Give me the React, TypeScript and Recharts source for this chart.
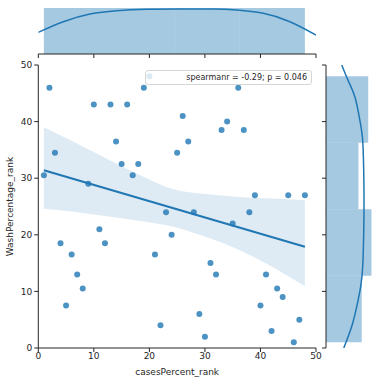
import React from 'react';
import { ComposedChart, Scatter, Line, Area, XAxis, YAxis, ReferenceArea } from 'recharts';

// scatter values (ranks)
const xRank = [1, 2, 3, 4, 5, 6, 7, 8, 9, 10, 11, 12, 13, 14, 15, 16, 17, 18, 19, 20, 21, 22, 23, 24,
  25, 26, 27, 28, 29, 30, 31, 32, 33, 34, 35, 36, 37, 38, 39, 40, 41, 42, 43, 44, 45, 46, 47, 48];
const yRank = [30.5, 46, 34.5, 18.5, 7.5, 16.5, 13, 10.5, 29, 43, 21, 18.5, 43, 36.5, 32.5, 43, 30.5, 32.5, 46, 48, 16.5, 4, 24, 20,
  34.5, 41, 36.5, 24, 6, 2, 15, 13, 38.5, 40, 22, 46, 38.5, 24, 27, 7.5, 13, 3, 10.5, 9, 27, 1, 5, 27];

// regression line and its confidence band
const regX = [1, 48];
const regY = [31.4, 17.9];
const bandX = [1, 6, 12, 18, 24.5, 30, 36, 42, 48];
const bandLo = [24.6, 24.1, 23.3, 22.5, 21.4, 19.7, 17.4, 14.4, 10.9];
const bandHi = [39.0, 36.6, 33.6, 30.7, 28.0, 27.2, 26.7, 26.4, 26.1];

// marginal histograms
const binEdges = [1, 12.75, 24.5, 36.25, 48];
const xBinCounts = [12, 12, 12, 12];
const yBinCounts = [11, 14, 10, 13];
const totalN = 48;

// marginal kde curves (density)
const topKdeX = [0, 4.5, 9.3, 14.1, 19.5, 25.5, 31.5, 35.7, 40.5, 45.3, 50];
const topKdeD = [0.01004, 0.01494, 0.0185, 0.02003, 0.02067, 0.02082, 0.02082, 0.02036, 0.01882, 0.01494, 0.00879];
const rightKdeY = [50, 47.2, 44.3, 40.1, 36.6, 31.3, 26.2, 20.3, 14.4, 10.9, 7.3, 3.8, 0];
const rightKdeD = [0.0086, 0.01219, 0.01585, 0.01858, 0.02005, 0.0206, 0.02077, 0.0206, 0.02005, 0.01896, 0.01678, 0.01404, 0.0097];

const ticks = [0, 10, 20, 30, 40, 50];
const xTitle = 'casesPercent_rank';
const yTitle = 'WashPercentage_rank';
const statText = 'spearmanr = -0.29; p = 0.046';

const BLUE = '#1f77b4';
const INK = '#262626';
const FONT = '"DejaVu Sans", sans-serif';

const points = xRank.map((x, i) => ({ x, y: yRank[i] }));
const regData = regX.map((x, i) => ({ x, y: regY[i] }));
const bandData = bandX.map((x, i) => ({ x, range: [bandLo[i], bandHi[i]] }));
const topKde = topKdeX.map((x, i) => ({ x, d: topKdeD[i] }));
const rightKde = rightKdeY.map((y, i) => ({ d: rightKdeD[i], y }));
const xBins = xBinCounts.map((c, i) => ({ lo: binEdges[i], hi: binEdges[i + 1], d: c / (totalN * (binEdges[i + 1] - binEdges[i])) }));
const yBins = yBinCounts.map((c, i) => ({ lo: binEdges[i], hi: binEdges[i + 1], d: c / (totalN * (binEdges[i + 1] - binEdges[i])) }));

const Dot = (props: any) => {
  const { cx, cy } = props;
  if (cx == null || cy == null) return <g />;
  return <circle cx={cx} cy={cy} r={3} fill={BLUE} fillOpacity={0.8} />;
};

const YTitle = (props: any) => {
  const vb = props.viewBox || { x: 0, y: 0, width: 0, height: 0 };
  const cx = vb.x + 10;
  const cy = vb.y + vb.height / 2;
  return (
    <text x={cx} y={cy} transform={`rotate(-90, ${cx}, ${cy})`} textAnchor="middle" dominantBaseline="central"
      fontSize={9} fill={INK} fontFamily={FONT}>{yTitle}</text>
  );
};

const XTitle = (props: any) => {
  const vb = props.viewBox || { x: 0, y: 0, width: 0, height: 0 };
  const cx = vb.x + vb.width / 2;
  const cy = vb.y + 24;
  return (
    <text x={cx} y={cy} textAnchor="middle" dominantBaseline="central" fontSize={9} fill={INK} fontFamily={FONT}>{xTitle}</text>
  );
};

const noTick = () => <g />;
const layer: React.CSSProperties = { position: 'absolute', left: 0, top: 0 };

export default function App() {
  return (
    <div style={{ position: 'absolute', left: 0, top: 0, width: 380, height: 383, background: '#fff', fontFamily: FONT }}>
      {/* top marginal */}
      <div style={layer}>
        <ComposedChart width={380} height={60} margin={{ top: 5.4, right: 64, bottom: 0, left: 38.3 }}>
          <XAxis type="number" dataKey="x" domain={[0, 50]} ticks={ticks} allowDataOverflow height={6}
            tickSize={4} tick={noTick} stroke={INK} />
          <YAxis type="number" domain={[0, 0.0225]} hide allowDataOverflow />
          {xBins.map((b, i) => (
            <ReferenceArea key={i} x1={b.lo} x2={b.hi} y1={0} y2={b.d} fill={BLUE} fillOpacity={0.4}
              stroke="none" ifOverflow="visible" />
          ))}
          <Line data={topKde} dataKey="d" type="natural" stroke={BLUE} strokeWidth={1.5} dot={false}
            isAnimationActive={false} />
        </ComposedChart>
      </div>
      {/* right marginal */}
      <div style={layer}>
        <ComposedChart width={380} height={383} margin={{ top: 65, right: 6.4, bottom: 35, left: 320 }}>
          <XAxis type="number" dataKey="d" domain={[0, 0.026]} hide allowDataOverflow />
          <YAxis type="number" domain={[0, 50]} ticks={ticks} allowDataOverflow width={6}
            tickSize={4} tick={noTick} stroke={INK} />
          {yBins.map((b, i) => (
            <ReferenceArea key={i} x1={0} x2={b.d} y1={b.lo} y2={b.hi} fill={BLUE} fillOpacity={0.4}
              stroke="none" ifOverflow="visible" />
          ))}
          <Line data={rightKde} dataKey="y" type="natural" stroke={BLUE} strokeWidth={1.5} dot={false}
            isAnimationActive={false} />
        </ComposedChart>
      </div>
      {/* joint plot */}
      <div style={layer}>
        <ComposedChart width={380} height={383} margin={{ top: 65, right: 64, bottom: 7, left: 0 }}>
          <XAxis type="number" dataKey="x" domain={[0, 50]} ticks={ticks} allowDataOverflow height={28}
            tickSize={4} tickMargin={1} stroke={INK}
            tick={{ fontSize: 9, fill: INK, fontFamily: FONT }} label={<XTitle />} />
          <YAxis type="number" domain={[0, 50]} ticks={ticks} allowDataOverflow width={38.3}
            tickSize={4} tickMargin={2} stroke={INK}
            tick={{ fontSize: 9, fill: INK, fontFamily: FONT }} label={<YTitle />} />
          <Area data={bandData} dataKey="range" type="monotone" fill={BLUE} fillOpacity={0.15} stroke="none"
            isAnimationActive={false} />
          <Scatter data={points} dataKey="y" shape={Dot} isAnimationActive={false} />
          <Line data={regData} dataKey="y" type="linear" stroke={BLUE} strokeWidth={2} dot={false}
            isAnimationActive={false} />
        </ComposedChart>
      </div>
      {/* stat annotation box */}
      <div style={{
        position: 'absolute', left: 145, top: 70, width: 167, height: 15, boxSizing: 'border-box',
        border: '1px solid #d6d6d6', borderRadius: 3, background: 'rgba(255,255,255,0.8)',
        display: 'flex', alignItems: 'center', justifyContent: 'flex-end', paddingRight: 4,
        fontSize: 8, color: INK, fontFamily: FONT, whiteSpace: 'nowrap', lineHeight: '13px'
      }}>{statText}</div>
    </div>
  );
}
